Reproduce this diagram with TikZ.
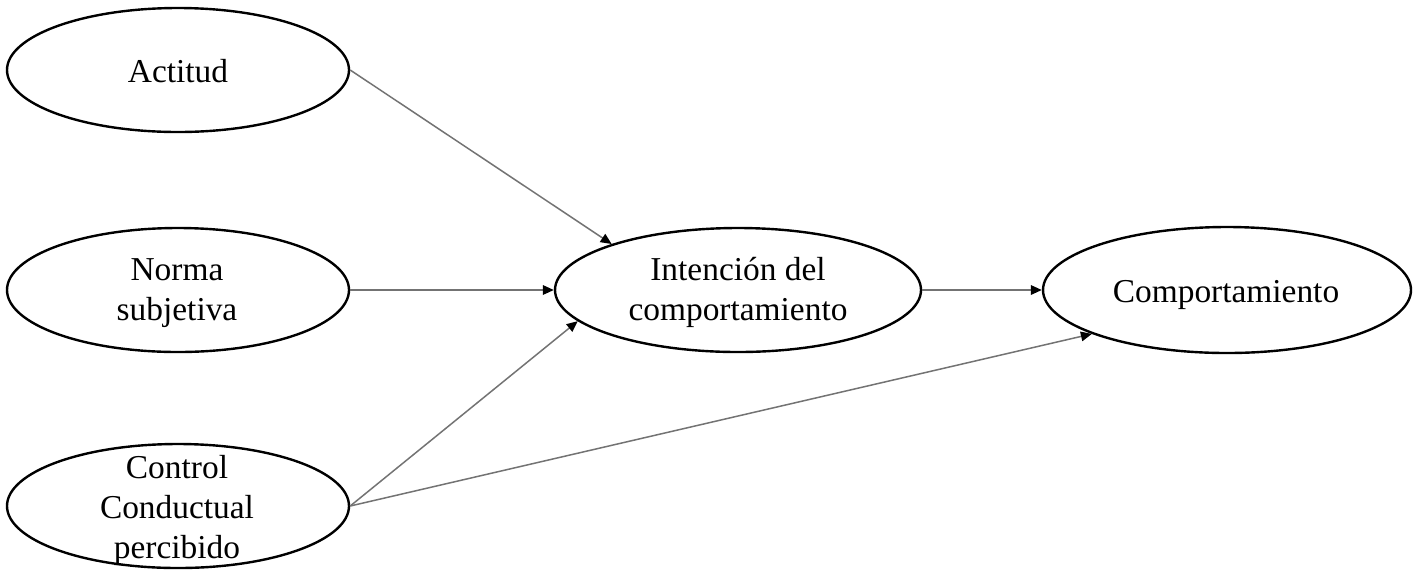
\documentclass[tikz,border=0pt]{standalone}
\usepackage{fontspec}
\setmainfont{Liberation Serif}
\usetikzlibrary{shapes.geometric,arrows.meta}
\begin{document}
\begin{tikzpicture}[x=0.5pt,y=-0.5pt,
  oval/.style={draw=black,line width=1.2pt,ellipse,inner sep=0pt,minimum width=171pt,minimum height=62pt},
  lbl/.style={anchor=base,align=center,inner sep=0pt,font=\fontsize{16.7}{20}\selectfont},
  link/.style={draw=black!55,line width=0.75pt,-{Triangle[length=5.5pt,width=4.8pt,color=black]}}]
\useasboundingbox (0,0) rectangle (1417,580);
% ellipses
\node[oval] (act) at (178,70) {};
\node[oval] (nor) at (178,290) {};
\node[oval] (ctl) at (178,506) {};
\node[oval,minimum width=183pt] (int) at (738,290) {};
\node[oval,minimum width=184pt,minimum height=63pt] (com) at (1227,290) {};
% texts
\node[lbl] (actt) at (178,82) {Actitud};
\node[lbl] (nort) at (177,320) {Norma\\subjetiva};
\node[lbl] (ctlt) at (177,558) {Control\\Conductual\\percibido};
\node[lbl] (intt) at (738,320) {Intención del\\comportamiento};
\node[lbl] (comt) at (1226,302) {Comportamiento};
% connectors
\draw[link] (act.east) -- (int.160.9);
\draw[link] (nor.east) -- (int.west);
\draw[link] (ctl.east) -- (int.191.6);
\draw[link] (ctl.east) -- (com.198.4);
\draw[link] (int.east) -- (com.west);
\end{tikzpicture}
\end{document}
